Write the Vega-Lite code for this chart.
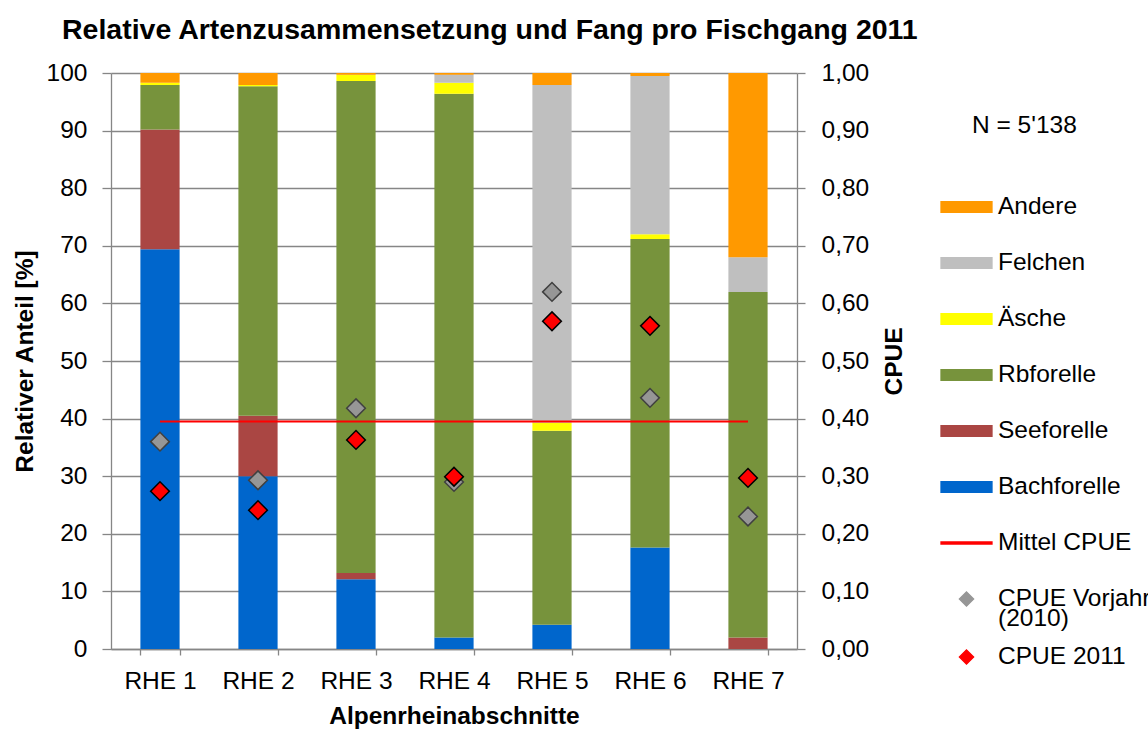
{
  "$schema": "https://vega.github.io/schema/vega-lite/v6.json",
  "width": 686,
  "height": 576,
  "autosize": {"type": "none"},
  "padding": {"left": 111, "top": 73, "right": 351, "bottom": 80},
  "background": "white",
  "title": {
    "text": "Relative Artenzusammensetzung und Fang pro Fischgang 2011",
    "anchor": "start",
    "frame": "group",
    "fontSize": 28.5,
    "fontWeight": "bold",
    "color": "black",
    "baseline": "alphabetic",
    "offset": -7,
    "dx": -49
  },
  "datasets": {
    "anteil": [
      {"abschnitt": "RHE 1", "art": "Bachforelle", "anteil": 69.4},
      {"abschnitt": "RHE 1", "art": "Seeforelle", "anteil": 20.8},
      {"abschnitt": "RHE 1", "art": "Rbforelle", "anteil": 7.7},
      {"abschnitt": "RHE 1", "art": "Äsche", "anteil": 0.4},
      {"abschnitt": "RHE 1", "art": "Andere", "anteil": 1.7},
      {"abschnitt": "RHE 2", "art": "Bachforelle", "anteil": 30.0},
      {"abschnitt": "RHE 2", "art": "Seeforelle", "anteil": 10.5},
      {"abschnitt": "RHE 2", "art": "Rbforelle", "anteil": 57.2},
      {"abschnitt": "RHE 2", "art": "Äsche", "anteil": 0.2},
      {"abschnitt": "RHE 2", "art": "Andere", "anteil": 2.1},
      {"abschnitt": "RHE 3", "art": "Bachforelle", "anteil": 12.1},
      {"abschnitt": "RHE 3", "art": "Seeforelle", "anteil": 1.1},
      {"abschnitt": "RHE 3", "art": "Rbforelle", "anteil": 85.4},
      {"abschnitt": "RHE 3", "art": "Äsche", "anteil": 1.1},
      {"abschnitt": "RHE 3", "art": "Andere", "anteil": 0.3},
      {"abschnitt": "RHE 4", "art": "Bachforelle", "anteil": 2.0},
      {"abschnitt": "RHE 4", "art": "Rbforelle", "anteil": 94.4},
      {"abschnitt": "RHE 4", "art": "Äsche", "anteil": 1.9},
      {"abschnitt": "RHE 4", "art": "Felchen", "anteil": 1.4},
      {"abschnitt": "RHE 4", "art": "Andere", "anteil": 0.3},
      {"abschnitt": "RHE 5", "art": "Bachforelle", "anteil": 4.2},
      {"abschnitt": "RHE 5", "art": "Rbforelle", "anteil": 33.7},
      {"abschnitt": "RHE 5", "art": "Äsche", "anteil": 1.4},
      {"abschnitt": "RHE 5", "art": "Felchen", "anteil": 58.6},
      {"abschnitt": "RHE 5", "art": "Andere", "anteil": 2.1},
      {"abschnitt": "RHE 6", "art": "Bachforelle", "anteil": 17.6},
      {"abschnitt": "RHE 6", "art": "Rbforelle", "anteil": 53.6},
      {"abschnitt": "RHE 6", "art": "Äsche", "anteil": 0.8},
      {"abschnitt": "RHE 6", "art": "Felchen", "anteil": 27.5},
      {"abschnitt": "RHE 6", "art": "Andere", "anteil": 0.5},
      {"abschnitt": "RHE 7", "art": "Seeforelle", "anteil": 2.0},
      {"abschnitt": "RHE 7", "art": "Rbforelle", "anteil": 60.0},
      {"abschnitt": "RHE 7", "art": "Felchen", "anteil": 6.0},
      {"abschnitt": "RHE 7", "art": "Andere", "anteil": 32.0}
    ],
    "mittel": [
      {"abschnitt": "RHE 1", "art": "Mittel CPUE", "cpue": 0.395},
      {"abschnitt": "RHE 7", "art": "Mittel CPUE", "cpue": 0.395}
    ],
    "cpue": [
      {"abschnitt": "RHE 1", "art": "CPUE Vorjahr (2010)", "cpue": 0.36},
      {"abschnitt": "RHE 2", "art": "CPUE Vorjahr (2010)", "cpue": 0.293},
      {"abschnitt": "RHE 3", "art": "CPUE Vorjahr (2010)", "cpue": 0.418},
      {"abschnitt": "RHE 4", "art": "CPUE Vorjahr (2010)", "cpue": 0.29},
      {"abschnitt": "RHE 5", "art": "CPUE Vorjahr (2010)", "cpue": 0.62},
      {"abschnitt": "RHE 6", "art": "CPUE Vorjahr (2010)", "cpue": 0.436},
      {"abschnitt": "RHE 7", "art": "CPUE Vorjahr (2010)", "cpue": 0.23},
      {"abschnitt": "RHE 1", "art": "CPUE 2011", "cpue": 0.274},
      {"abschnitt": "RHE 2", "art": "CPUE 2011", "cpue": 0.241},
      {"abschnitt": "RHE 3", "art": "CPUE 2011", "cpue": 0.363},
      {"abschnitt": "RHE 4", "art": "CPUE 2011", "cpue": 0.299},
      {"abschnitt": "RHE 5", "art": "CPUE 2011", "cpue": 0.569},
      {"abschnitt": "RHE 6", "art": "CPUE 2011", "cpue": 0.561},
      {"abschnitt": "RHE 7", "art": "CPUE 2011", "cpue": 0.297}
    ]
  },
  "layer": [
    {
      "data": {"name": "anteil"},
      "mark": {"type": "bar"},
      "encoding": {
        "x": {
          "field": "abschnitt",
          "type": "nominal",
          "scale": {"paddingInner": 0.6, "paddingOuter": 0.3},
          "axis": {
            "title": "Alpenrheinabschnitte",
            "labelAngle": 0,
            "tickBand": "extent",
            "tickSize": 6,
            "labelPadding": 14,
            "titlePadding": 12
          }
        },
        "y": {
          "field": "anteil",
          "type": "quantitative",
          "stack": "zero",
          "scale": {"domain": [0, 100], "nice": false},
          "axis": {
            "title": "Relativer Anteil [%]",
            "values": [0, 10, 20, 30, 40, 50, 60, 70, 80, 90, 100],
            "grid": true,
            "tickSize": 9,
            "labelPadding": 15,
            "titlePadding": 9
          }
        },
        "order": {"field": "abschnitt", "type": "ordinal"},
        "color": {
          "field": "art",
          "type": "nominal",
          "scale": {
            "domain": ["Andere", "Felchen", "Äsche", "Rbforelle", "Seeforelle", "Bachforelle", "Mittel CPUE", "CPUE Vorjahr (2010)", "CPUE 2011"],
            "range": ["#FF9900", "#BFBFBF", "#FFFF00", "#77933C", "#AA4643", "#0066CC", "#FF0000", "#969696", "#FF0000"]
          },
          "legend": {
            "title": "N = 5'138",
            "orient": "none",
            "legendX": 829,
            "legendY": 41,
            "padding": 0,
            "titleFontSize": 24.5,
            "titleFontWeight": "normal",
            "titleColor": "black",
            "titlePadding": 42,
            "labelFontSize": 24.5,
            "labelColor": "black",
            "labelLimit": 400,
            "labelOffset": 5,
            "rowPadding": 0,
            "symbolSize": 2600,
            "labelExpr": "datum.value === 'CPUE Vorjahr (2010)' ? ['CPUE Vorjahr', '(2010)'] : [datum.label, '']",
            "encode": {
              "title": {"update": {"dx": {"value": 32}}},
              "labels": {
                "update": {
                  "lineHeight": {"signal": "datum.value === 'CPUE Vorjahr (2010)' ? 19.5 : 17.8"}
                }
              },
              "symbols": {
                "update": {
                  "shape": {"signal": "datum.value === 'Mittel CPUE' ? 'M-1,-0.04H1V0.04H-1Z' : (datum.value === 'CPUE 2011' || datum.value === 'CPUE Vorjahr (2010)') ? 'M0,-0.28L0.28,0L0,0.28L-0.28,0Z' : 'M-1,-0.21H1V0.21H-1Z'"},
                  "fill": {"signal": "scale('color', datum.value)"},
                  "stroke": {"signal": "datum.value === 'CPUE 2011' ? 'black' : datum.value === 'CPUE Vorjahr (2010)' ? '#404040' : 'transparent'"},
                  "strokeWidth": {"value": 1.3},
                  "opacity": {"value": 1},
                  "fillOpacity": {"value": 1},
                  "strokeOpacity": {"value": 1},
                  "size": {"value": 2600}
                }
              }
            }
          }
        }
      }
    },
    {
      "layer": [
        {
          "data": {"name": "mittel"},
          "mark": {"type": "line", "strokeWidth": 2.2},
          "encoding": {
            "x": {"field": "abschnitt", "type": "nominal"},
            "y": {
              "field": "cpue",
              "type": "quantitative",
              "scale": {"domain": [0, 1], "nice": false},
              "axis": {
                "title": "CPUE",
                "orient": "right",
                "values": [0, 0.1, 0.2, 0.3, 0.4, 0.5, 0.6, 0.7, 0.8, 0.9, 1],
                "labelExpr": "replace(format(datum.value, '.2f'), '.', ',')",
                "grid": false,
                "tickSize": 8,
                "labelPadding": 16,
                "titlePadding": 14,
                "titleAngle": -90,
                "titleBaseline": "top"
              }
            },
            "color": {"field": "art", "type": "nominal"}
          }
        },
        {
          "data": {"name": "cpue"},
          "mark": {"type": "point", "shape": "diamond", "filled": true, "size": 350, "strokeWidth": 1.5, "opacity": 1},
          "encoding": {
            "x": {"field": "abschnitt", "type": "nominal"},
            "y": {"field": "cpue", "type": "quantitative"},
            "color": {"field": "art", "type": "nominal"},
            "stroke": {
              "condition": {"test": "datum.art === 'CPUE 2011'", "value": "black"},
              "value": "#404040"
            }
          }
        }
      ]
    }
  ],
  "resolve": {"scale": {"y": "independent"}},
  "config": {
    "font": "Liberation Sans",
    "view": {"stroke": null},
    "axis": {
      "labelFont": "Liberation Sans",
      "labelFontSize": 24.5,
      "labelColor": "black",
      "titleFont": "Liberation Sans",
      "titleFontSize": 24.5,
      "titleFontWeight": "bold",
      "titleColor": "black",
      "domainColor": "#868686",
      "domainWidth": 1.3,
      "tickColor": "#868686",
      "tickWidth": 1.3,
      "gridColor": "#868686",
      "gridWidth": 1.3
    },
    "legend": {"labelFont": "Liberation Sans", "titleFont": "Liberation Sans"}
  }
}
